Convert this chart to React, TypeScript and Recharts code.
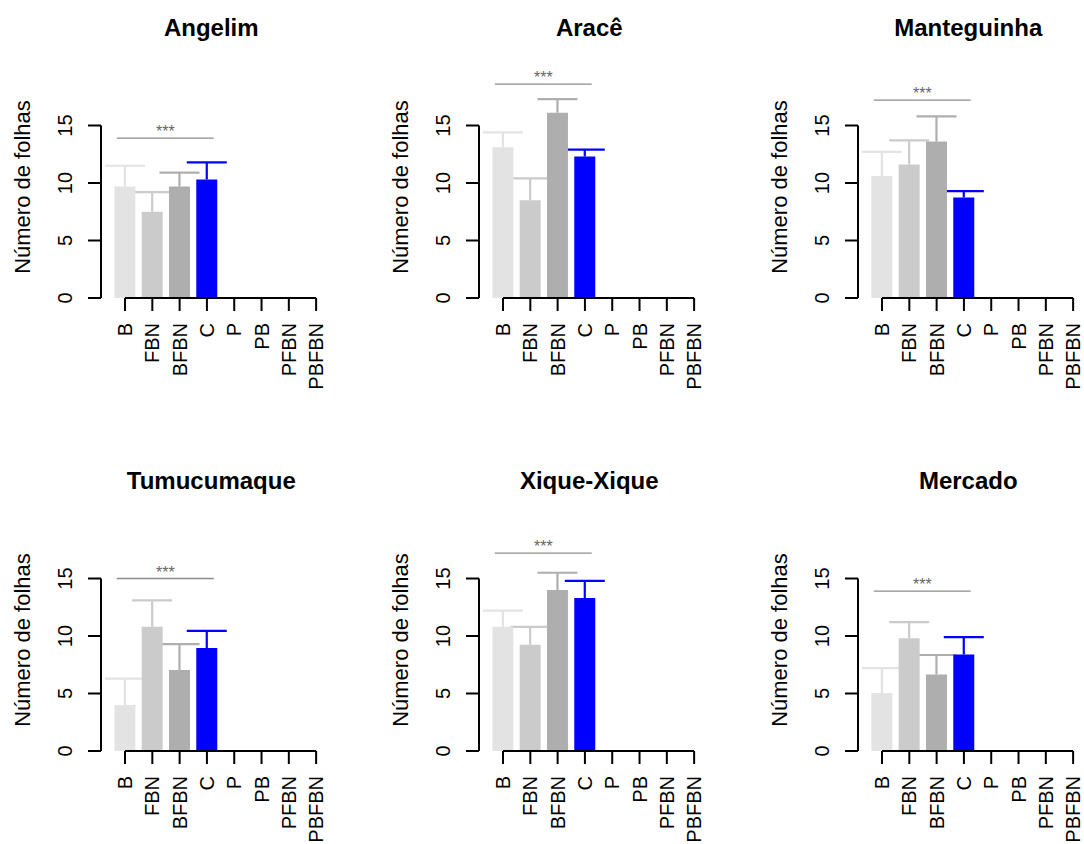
import React from 'react';
import { BarChart, Bar, XAxis, YAxis, Cell, ReferenceLine } from 'recharts';

// ---------- data ----------
const categories = ['B', 'FBN', 'BFBN', 'C', 'P', 'PB', 'PFBN', 'PBFBN'];
const siteNames = ['Angelim', 'Aracê', 'Manteguinha', 'Tumucumaque', 'Xique-Xique', 'Mercado'];

const angelimMeans = [9.7, 7.5, 9.7, 10.3];
const angelimErrs = [1.8, 1.7, 1.2, 1.5];
const araceMeans = [13.1, 8.5, 16.1, 12.3];
const araceErrs = [1.3, 1.9, 1.2, 0.6];
const manteguinhaMeans = [10.6, 11.6, 13.6, 8.75];
const manteguinhaErrs = [2.1, 2.1, 2.2, 0.55];
const tumucumaqueMeans = [4.0, 10.8, 7.05, 8.95];
const tumucumaqueErrs = [2.3, 2.3, 2.25, 1.5];
const xiqueMeans = [10.8, 9.25, 14.0, 13.3];
const xiqueErrs = [1.4, 1.55, 1.5, 1.5];
const mercadoMeans = [5.05, 9.8, 6.65, 8.4];
const mercadoErrs = [2.15, 1.4, 1.7, 1.5];

const sigLevels = [13.9, 18.6, 17.2, 15.0, 17.2, 13.9];
const sigText = '***';
const sigFrom = 0.7;
const sigTo = 4.25;

const yTicks = [0, 5, 10, 15];
const xTicks = [1, 2, 3, 4, 5, 6, 7, 8];
const barColors = ['#e3e3e3', '#cbcbcb', '#aeaeae', '#0000ff'];
const yLabel = 'Número de folhas';

const allMeans = [angelimMeans, araceMeans, manteguinhaMeans, tumucumaqueMeans, xiqueMeans, mercadoMeans];
const allErrs = [angelimErrs, araceErrs, manteguinhaErrs, tumucumaqueErrs, xiqueErrs, mercadoErrs];

// ---------- layout ----------
const FONT = '"Liberation Sans", Arial, Helvetica, sans-serif';
const PANEL_W = 379;
const PANEL_H = 454;
const COL_LEFTS = [0, 378, 757];
const ROW_TOPS = [0, 453];
const PLOT_LEFT = 101;
const X_MIN = 0.12;
const X_MAX = 8.2;
const SLOT = 27.3;
const PLOT_W = (X_MAX - X_MIN) * SLOT;
const Y_MAX = 20;
const PLOT_TOP = 68;
const PLOT_H = 230;
const XAXIS_H = PANEL_H - PLOT_TOP - PLOT_H;
const BAR_W = 21;
const CAP_EXT = 9.5;

function buildRows(means: number[], errs: number[]) {
  return categories.map((c, i) => ({
    pos: i + 1,
    cat: c,
    mean: i < means.length ? means[i] : null,
    err: i < means.length ? [means[i], means[i] + errs[i]] : null,
  }));
}

const ErrShape = (props: any) => {
  const { x, y, width, height, fill } = props;
  if (x == null || y == null || height == null) return null;
  const top = Math.min(y, y + height);
  const bottom = Math.max(y, y + height);
  const cx = x + width / 2;
  return (
    <g>
      <line x1={cx} x2={cx} y1={top} y2={bottom} stroke={fill} strokeWidth={2.2} />
      <line x1={x - CAP_EXT} x2={x + width + CAP_EXT} y1={top} y2={top} stroke={fill} strokeWidth={2.2} />
    </g>
  );
};

const XTick = (props: any) => {
  const { x, y, payload } = props;
  const label = categories[Math.round(payload.value) - 1];
  return (
    <text
      x={x}
      y={y}
      transform={`rotate(-90, ${x}, ${y})`}
      textAnchor="end"
      dominantBaseline="central"
      fontSize={20}
      fontFamily={FONT}
      fill="#000"
    >
      {label}
    </text>
  );
};

const YTick = (props: any) => {
  const { x, y, payload } = props;
  return (
    <text
      x={x}
      y={y}
      transform={`rotate(-90, ${x}, ${y})`}
      textAnchor="middle"
      dominantBaseline="central"
      fontSize={20}
      fontFamily={FONT}
      fill="#000"
    >
      {payload.value}
    </text>
  );
};

function Panel({ idx }: { idx: number }) {
  const rows = buildRows(allMeans[idx], allErrs[idx]);
  const sig = sigLevels[idx];
  return (
    <div style={{ position: 'relative', width: PANEL_W, height: PANEL_H }}>
      <BarChart
        width={PANEL_W}
        height={PANEL_H}
        data={rows}
        barGap={-BAR_W}
        margin={{ top: PLOT_TOP, right: PANEL_W - PLOT_LEFT - PLOT_W, bottom: 0, left: 0 }}
      >
        <XAxis
          type="number"
          dataKey="pos"
          domain={[X_MIN, X_MAX]}
          ticks={xTicks}
          interval={0}
          allowDataOverflow
          height={XAXIS_H}
          axisLine={false}
          tickSize={13}
          tickMargin={12}
          tickLine={{ stroke: '#000', strokeWidth: 2 }}
          tick={(p: any) => <XTick {...p} />}
        />
        <YAxis
          type="number"
          domain={[0, Y_MAX]}
          ticks={yTicks}
          interval={0}
          allowDataOverflow
          width={PLOT_LEFT}
          axisLine={false}
          tickSize={13}
          tickMargin={23}
          tickLine={{ stroke: '#000', strokeWidth: 2 }}
          tick={(p: any) => <YTick {...p} />}
        />
        <Bar dataKey="err" barSize={BAR_W} isAnimationActive={false} shape={(p: any) => <ErrShape {...p} />}>
          {rows.map((r, i) => (
            <Cell key={r.cat} fill={barColors[i % barColors.length]} />
          ))}
        </Bar>
        <Bar dataKey="mean" barSize={BAR_W} isAnimationActive={false}>
          {rows.map((r, i) => (
            <Cell key={r.cat} fill={barColors[i % barColors.length]} />
          ))}
        </Bar>
        <ReferenceLine
          segment={[{ x: X_MIN, y: 0 }, { x: X_MIN, y: yTicks[yTicks.length - 1] }]}
          stroke="#000"
          strokeWidth={2}
          ifOverflow="visible"
        />
        <ReferenceLine
          segment={[{ x: xTicks[0], y: 0 }, { x: xTicks[xTicks.length - 1], y: 0 }]}
          stroke="#000"
          strokeWidth={2}
          ifOverflow="visible"
        />
        <ReferenceLine
          segment={[{ x: sigFrom, y: sig }, { x: sigTo, y: sig }]}
          stroke="#8c8c8c"
          strokeWidth={1.3}
          ifOverflow="visible"
          label={{ value: sigText, position: 'top', offset: 1, fill: '#666', fontSize: 16, fontFamily: FONT }}
        />
      </BarChart>
      <svg
        width={PANEL_W}
        height={PANEL_H}
        style={{ position: 'absolute', left: 0, top: 0, pointerEvents: 'none' }}
      >
        <text
          x={PLOT_LEFT + PLOT_W / 2}
          y={36}
          textAnchor="middle"
          fontSize={24}
          fontWeight="bold"
          fontFamily={FONT}
          fill="#000"
        >
          {siteNames[idx]}
        </text>
        <text
          x={22}
          y={187}
          transform="rotate(-90, 22, 187)"
          textAnchor="middle"
          dominantBaseline="central"
          fontSize={22}
          fontFamily={FONT}
          fill="#000"
        >
          {yLabel}
        </text>
      </svg>
    </div>
  );
}

export default function App() {
  return (
    <div
      style={{
        position: 'absolute',
        left: 0,
        top: 0,
        width: 1084,
        height: 844,
        overflow: 'hidden',
        background: '#fff',
        fontFamily: FONT,
      }}
    >
      {siteNames.map((name, k) => (
        <div
          key={name}
          style={{
            position: 'absolute',
            left: COL_LEFTS[k % 3],
            top: ROW_TOPS[Math.floor(k / 3)],
            width: PANEL_W,
            height: PANEL_H,
          }}
        >
          <Panel idx={k} />
        </div>
      ))}
    </div>
  );
}
